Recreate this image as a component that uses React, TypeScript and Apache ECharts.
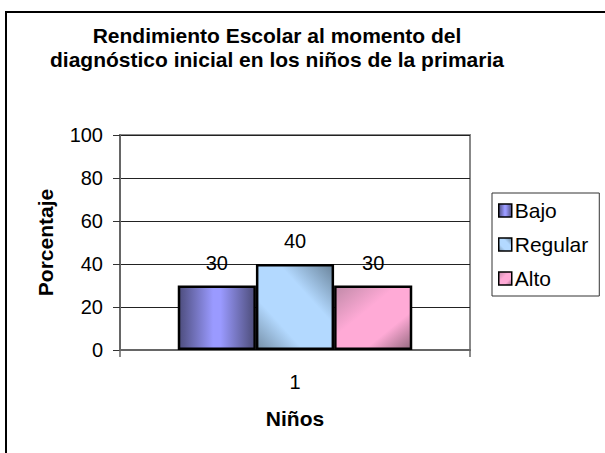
import React, { useEffect, useRef } from "react";
import * as echarts from "echarts";

const titleLines = [
  "Rendimiento Escolar al momento del",
  "diagnóstico inicial en los niños de la primaria",
];
const categories = ["1"];
const seriesNames = ["Bajo", "Regular", "Alto"];
const bajo = [30];
const regular = [40];
const alto = [30];
const yAxisName = "Porcentaje";
const xAxisName = "Niños";

const FONT = "'Liberation Sans', Arial, Helvetica, sans-serif";

export default function App() {
  const ref = useRef<HTMLDivElement>(null);
  useEffect(() => {
    if (!ref.current) return;
    const chart = echarts.init(ref.current, undefined, { renderer: "svg" });
    const bajoColor = new echarts.graphic.LinearGradient(0, 0, 1, 0, [
      { offset: 0, color: "#4d4d7d" },
      { offset: 0.45, color: "#9a9aff" },
      { offset: 0.55, color: "#9a9aff" },
      { offset: 1, color: "#4d4d7a" },
    ]);
    const regularColor = new echarts.graphic.LinearGradient(1, 0, 0, 1, [
      { offset: 0, color: "#6a849b" },
      { offset: 0.35, color: "#b3d9ff" },
      { offset: 0.7, color: "#b3d9ff" },
      { offset: 1, color: "#7690a8" },
    ]);
    const altoColor = new echarts.graphic.LinearGradient(0, 0, 1, 1, [
      { offset: 0, color: "#c08aa8" },
      { offset: 0.4, color: "#ffaad6" },
      { offset: 0.7, color: "#ffaad6" },
      { offset: 1, color: "#956a80" },
    ]);
    const colors = [bajoColor, regularColor, altoColor];
    const values = [bajo, regular, alto];
    const textStyle = { fontFamily: FONT, fontSize: 20, color: "#000" };
    const boldStyle = { fontFamily: FONT, fontSize: 21, fontWeight: "bold", color: "#000" };
    chart.setOption({
      animation: false,
      backgroundColor: "#fff",
      textStyle,
      title: {
        text: titleLines.join("\n"),
        left: 277,
        top: 23,
        padding: 0,
        textAlign: "center",
        textStyle: { ...boldStyle, lineHeight: 24 },
      },
      graphic: [
        {
          type: "rect",
          shape: { x: 6, y: 12, width: 800, height: 600 },
          style: { fill: "none", stroke: "#000", lineWidth: 2 },
          z: 100,
          silent: true,
        },
      ],
      legend: {
        orient: "vertical",
        left: 492,
        top: 193,
        padding: [7, 11, 7, 6],
        itemWidth: 13,
        itemHeight: 13,
        itemGap: 13,
        borderColor: "#333",
        borderWidth: 1,
        icon: "rect",
        itemStyle: { borderColor: "#000", borderWidth: 1.5 },
        textStyle: { ...textStyle, fontSize: 21, padding: [0, 0, 0, -2] },
        data: seriesNames,
      },
      grid: {
        left: 120,
        right: 135,
        top: 135,
        bottom: 103,
        show: true,
        borderColor: "#888",
        borderWidth: 2,
        backgroundColor: "#fff",
      },
      xAxis: {
        type: "category",
        data: categories,
        name: xAxisName,
        nameLocation: "middle",
        nameGap: 58,
        nameTextStyle: boldStyle,
        axisLine: { show: true, lineStyle: { color: "#666", width: 2 } },
        axisTick: { show: true, length: 7, lineStyle: { color: "#666", width: 1.5 } },
        axisLabel: { ...textStyle, margin: 22 },
      },
      yAxis: {
        type: "value",
        min: 0,
        max: 100,
        interval: 20,
        name: yAxisName,
        nameLocation: "middle",
        nameRotate: 90,
        nameGap: 64,
        nameTextStyle: boldStyle,
        axisLine: { show: true, lineStyle: { color: "#666", width: 2 } },
        axisTick: { show: true, length: 7, lineStyle: { color: "#333", width: 1 } },
        axisLabel: { ...textStyle, margin: 17 },
        splitLine: { show: true, lineStyle: { color: "#222", width: 1 } },
      },
      series: seriesNames.map((name, i) => ({
        name,
        type: "bar",
        data: values[i],
        barGap: "0%",
        barCategoryGap: "33%",
        itemStyle: { color: colors[i], borderColor: "#000", borderWidth: 2.5 },
        label: {
          show: true,
          position: "top",
          distance: 13,
          ...textStyle,
        },
      })),
    });
    return () => chart.dispose();
  }, []);
  return (
    <div
      ref={ref}
      style={{ position: "fixed", left: 0, top: 0, width: 605, height: 453 }}
    />
  );
}
